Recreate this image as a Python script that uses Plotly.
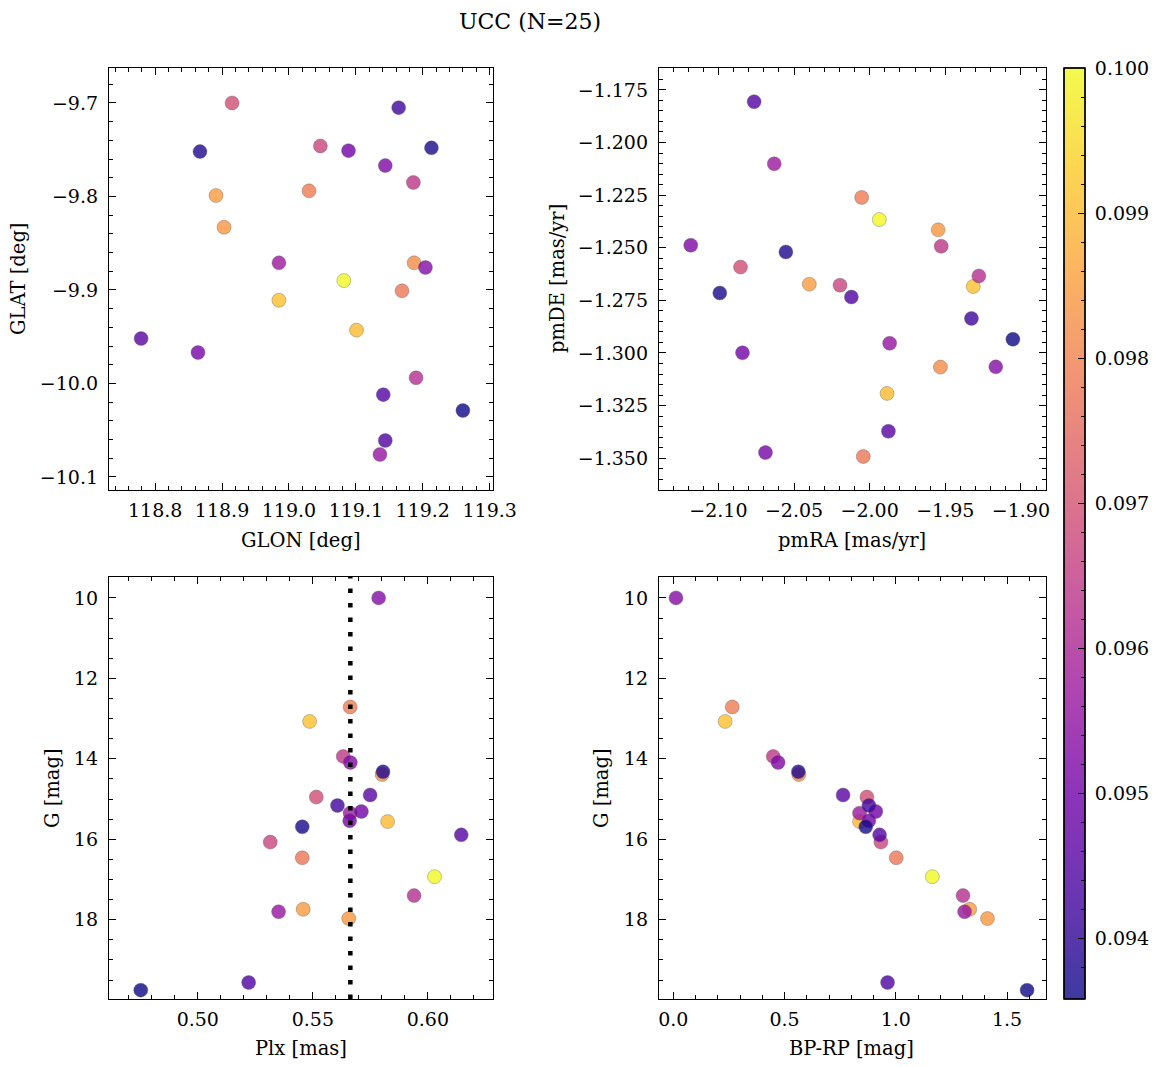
import plotly.graph_objects as go
import plotly.colors as pc

# ---------------- data ----------------
glon = [119.082, 118.985, 119.101, 118.891, 118.903, 119.187, 119.030, 119.169,
        118.915, 119.047, 119.186, 119.190, 118.985, 119.136, 119.204, 119.144,
        118.864, 119.089, 118.779, 119.141, 119.144, 119.164, 118.867, 119.213, 119.260]
glat = [-9.890, -9.911, -9.943, -9.799, -9.833, -9.871, -9.794, -9.901,
        -9.700, -9.746, -9.785, -9.994, -9.871, -10.076, -9.876, -9.767,
        -9.967, -9.751, -9.952, -10.012, -10.061, -9.705, -9.752, -9.748, -10.029]
pmra = [-1.9936, -1.9315, -1.9885, -2.0399, -1.9547, -1.9532, -2.0053, -2.0042,
        -2.0854, -2.0196, -1.9527, -1.9278, -2.0631, -1.9868, -1.9166, -2.1183,
        -2.0689, -2.0841, -1.9876, -2.0764, -2.0121, -1.9327, -2.0554, -2.0991, -1.9053]
pmde = [-1.2366, -1.2684, -1.3192, -1.2673, -1.2415, -1.3067, -1.2261, -1.3492,
        -1.2592, -1.2678, -1.2493, -1.2634, -1.2101, -1.2954, -1.3066, -1.2488,
        -1.3473, -1.2999, -1.3372, -1.1806, -1.2734, -1.2836, -1.2520, -1.2715, -1.2935]
plx = [0.6029, 0.5486, 0.5825, 0.5458, 0.5656, 0.5801, 0.5662, 0.5454,
       0.5515, 0.5315, 0.5632, 0.5940, 0.5662, 0.5351, 0.5786, 0.5663,
       0.5660, 0.5711, 0.5749, 0.6145, 0.5221, 0.5607, 0.5805, 0.5454, 0.4752]
gmag = [16.93, 13.07, 15.56, 17.74, 17.97, 14.39, 12.71, 16.46,
        14.95, 16.07, 13.94, 17.40, 15.35, 17.80, 10.00, 14.09,
        15.54, 15.31, 14.90, 15.89, 19.56, 15.16, 14.32, 15.69, 19.75]
bp_rp = [1.164, 0.233, 0.837, 1.332, 1.412, 0.564, 0.265, 1.002,
         0.870, 0.933, 0.449, 1.302, 0.837, 1.309, 0.012, 0.471,
         0.879, 0.910, 0.763, 0.927, 0.963, 0.879, 0.562, 0.865, 1.590]
prob = [0.1000, 0.0991, 0.0990, 0.0985, 0.0984, 0.0982, 0.0979, 0.0978,
        0.0969, 0.0967, 0.0964, 0.0962, 0.0957, 0.0956, 0.0953, 0.0952,
        0.0951, 0.0950, 0.0946, 0.0945, 0.0944, 0.0942, 0.0938, 0.0937, 0.09358]
plx_ref = 0.5663
cbar_ticks = [0.094, 0.095, 0.096, 0.097, 0.098, 0.099, 0.100]
title_text = "UCC (N=25)"

# ---------------- styling ----------------
W, H = 1161, 1067
OFF = 8          # page body margin of the html page
FONT = "DejaVu Serif"
TICK_FS = 19
LAB_FS = 19.5
ALPHA = 0.8

def px_x(p):
    return (p - OFF) / W

def px_y(p):
    return 1 - (p - OFF) / H

plasma = pc.sequential.Plasma
cscale = []
for i, c in enumerate(plasma):
    r, g, b = pc.hex_to_rgb(c)
    cscale.append([i / (len(plasma) - 1), f"rgba({r},{g},{b},{ALPHA})"])
clear_scale = [[0, "rgba(0,0,0,0)"], [1, "rgba(0,0,0,0)"]]

cmin, cmax = min(prob), max(prob)

# minor colorbar tick positions (every 0.0002 between the majors)
minor_cb = []
k = 1
while True:
    v = round(0.0936 + 0.0002 * k, 5)
    if v > cmax:
        break
    if all(abs(v - t) > 1e-7 for t in cbar_ticks) and v >= cmin:
        minor_cb.append(v)
    k += 1

def cbar(**kw):
    base = dict(
        x=px_x(1064), xanchor="left", xpad=0, ypad=0,
        y=(px_y(999) + px_y(68)) / 2, yanchor="middle",
        len=(999 - 68) / H, lenmode="fraction",
        thickness=21, thicknessmode="pixels",
        outlinecolor="black", outlinewidth=1,
        tickfont=dict(family=FONT, size=TICK_FS, color="black"),
    )
    base.update(kw)
    return base

fig = go.Figure()

panels = [
    (glon, glat, "x", "y"),
    (pmra, pmde, "x2", "y2"),
    (plx, gmag, "x3", "y3"),
    (bp_rp, gmag, "x4", "y4"),
]
for i, (xs, ys, xa, ya) in enumerate(panels):
    fig.add_trace(go.Scatter(
        x=xs, y=ys, xaxis=xa, yaxis=ya, mode="markers",
        marker=dict(
            size=14, color=prob, colorscale=cscale, cmin=cmin, cmax=cmax,
            line=dict(color="rgba(90,90,90,0.6)", width=0.6),
            showscale=(i == 0),
            colorbar=cbar(ticks="outside", ticklen=6, tickcolor="rgba(0,0,0,0)",
                          tickvals=cbar_ticks, tickformat=".3f"),
        ),
        showlegend=False, hoverinfo="skip",
    ))

# tick overlays for the colour bar (transparent fill: only ticks are drawn)
for vals, tlen in [(cbar_ticks, 7), (minor_cb, 4)]:
    fig.add_trace(go.Scatter(
        x=glon, y=glat, xaxis="x", yaxis="y", mode="markers",
        marker=dict(
            size=1, color=prob, colorscale=clear_scale, cmin=cmin, cmax=cmax,
            line=dict(width=0), showscale=True,
            colorbar=cbar(ticks="inside", ticklen=tlen, tickwidth=1, tickcolor="black",
                          tickvals=vals, showticklabels=False),
        ),
        showlegend=False, hoverinfo="skip",
    ))

def axstyle(dom, anchor, dtick, minor_dtick, rng, fmt, standoff):
    return dict(
        domain=dom, anchor=anchor, range=rng, dtick=dtick, tick0=0,
        tickformat=fmt, ticklabelstandoff=standoff,
        showline=True, linecolor="black", linewidth=1.3, mirror="allticks",
        ticks="inside", ticklen=7, tickwidth=1, tickcolor="black",
        minor=dict(ticks="inside", ticklen=4, tickwidth=0.8, tickcolor="black",
                   dtick=minor_dtick, tick0=0, showgrid=False),
        showgrid=False, zeroline=False, automargin=False,
        tickfont=dict(family=FONT, size=TICK_FS, color="black"),
    )

xl = [px_x(109), px_x(493)]
xr = [px_x(659), px_x(1046)]
yt = [px_y(490), px_y(68)]
yb = [px_y(999), px_y(577)]

fig.update_layout(
    width=W, height=H,
    margin=dict(l=0, r=0, t=0, b=0),
    paper_bgcolor="white", plot_bgcolor="white",
    xaxis=axstyle(xl, "y", 0.1, 0.02, [118.731, 119.305], ".1f", 3),
    yaxis=axstyle(yt, "x", 0.1, 0.02, [-10.114, -9.6626], ".1f", 6),
    xaxis2=axstyle(xr, "y2", 0.05, 0.01, [-2.1393, -1.8834], ".2f", 3),
    yaxis2=axstyle(yt, "x2", 0.025, 0.005, [-1.3651, -1.1646], ".3f", 6),
    xaxis3=axstyle(xl, "y3", 0.05, 0.01, [0.4614, 0.6283], ".2f", 3),
    yaxis3=axstyle(yb, "x3", 2, 0.5, [19.97, 9.48], "d", 6),
    xaxis4=axstyle(xr, "y4", 0.5, 0.1, [-0.0643, 1.675], ".1f", 3),
    yaxis4=axstyle(yb, "x4", 2, 0.5, [19.97, 9.48], "d", 6),
)

fig.add_shape(type="line", xref="x3", yref="y3 domain", x0=plx_ref, x1=plx_ref,
              y0=0, y1=1, line=dict(color="black", width=4.5, dash="4.5px,10px"),
              layer="above")

def ann(text, x, y, angle=0, size=LAB_FS):
    fig.add_annotation(text=text, x=px_x(x), y=px_y(y), xref="paper", yref="paper",
                       showarrow=False, textangle=angle, xanchor="center", yanchor="middle",
                       font=dict(family=FONT, size=size, color="black"))

ann(title_text, 530, 21, size=22)
ann("GLON [deg]", 301, 540)
ann("pmRA [mas/yr]", 852, 540)
ann("Plx [mas]", 301, 1048)
ann("BP-RP [mag]", 852, 1048)
ann("GLAT [deg]", 18, 279, angle=-90)
ann("pmDE [mas/yr]", 557, 279, angle=-90)
ann("G [mag]", 52, 788, angle=-90)
ann("G [mag]", 601, 788, angle=-90)

fig.write_html("out.html")
